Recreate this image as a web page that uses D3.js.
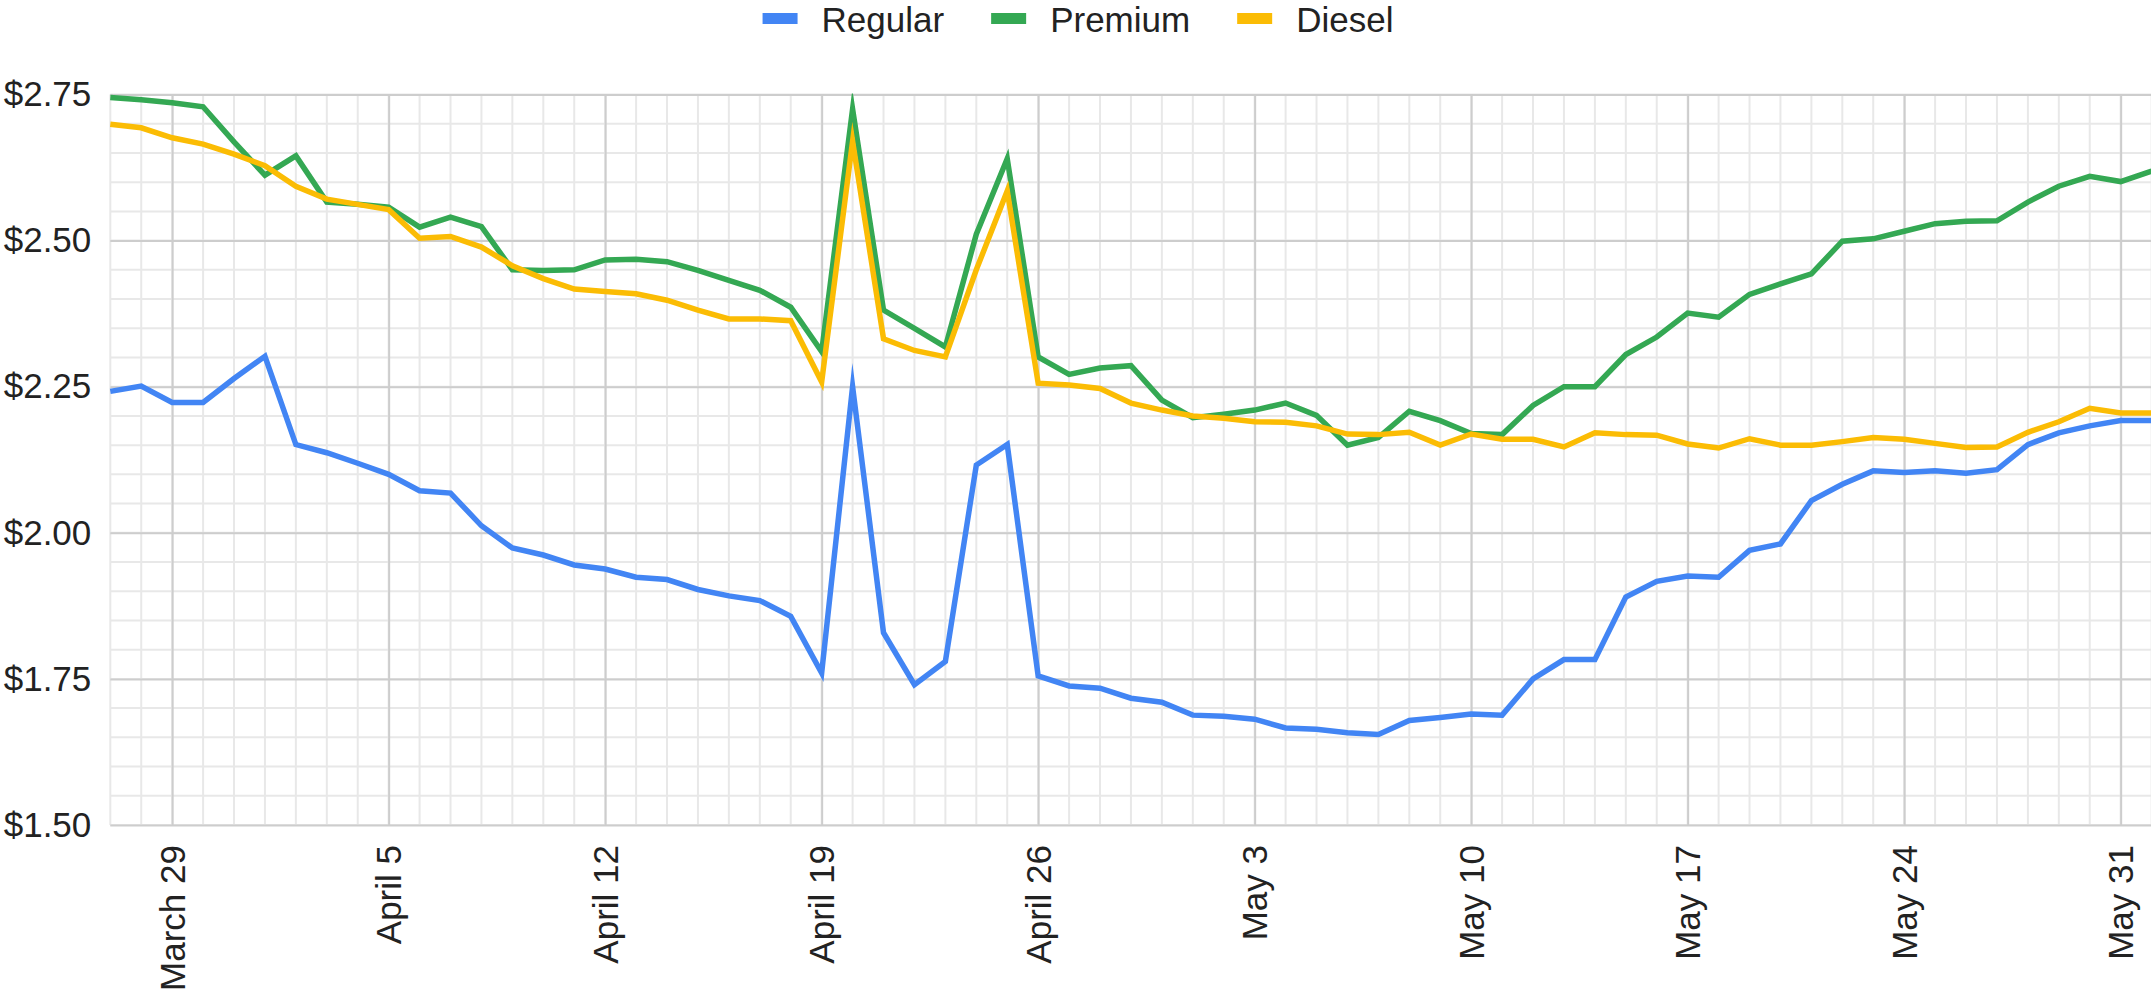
<!DOCTYPE html>
<html>
<head>
<meta charset="utf-8">
<script src="https://cdn.jsdelivr.net/npm/d3@7"></script>
<style>
  html, body { margin: 0; padding: 0; background: #fff; }
  svg { display: block; }
  text { font-family: "Liberation Sans", Arial, sans-serif; fill: #222; }
</style>
</head>
<body>
<svg id="chart" width="2151" height="995"></svg>
<script>
// Daily average fuel prices, late March to the start of June
const dates = [
  "2020-03-27","2020-03-28","2020-03-29","2020-03-30","2020-03-31",
  "2020-04-01","2020-04-02","2020-04-03","2020-04-04","2020-04-05",
  "2020-04-06","2020-04-07","2020-04-08","2020-04-09","2020-04-10",
  "2020-04-11","2020-04-12","2020-04-13","2020-04-14","2020-04-15",
  "2020-04-16","2020-04-17","2020-04-18","2020-04-19","2020-04-20",
  "2020-04-21","2020-04-22","2020-04-23","2020-04-24","2020-04-25",
  "2020-04-26","2020-04-27","2020-04-28","2020-04-29","2020-04-30",
  "2020-05-01","2020-05-02","2020-05-03","2020-05-04","2020-05-05",
  "2020-05-06","2020-05-07","2020-05-08","2020-05-09","2020-05-10",
  "2020-05-11","2020-05-12","2020-05-13","2020-05-14","2020-05-15",
  "2020-05-16","2020-05-17","2020-05-18","2020-05-19","2020-05-20",
  "2020-05-21","2020-05-22","2020-05-23","2020-05-24","2020-05-25",
  "2020-05-26","2020-05-27","2020-05-28","2020-05-29","2020-05-30",
  "2020-05-31","2020-06-01"
];

const regular = [
  2.242,2.251,2.223,2.223,2.264,
  2.302,2.151,2.137,2.119,2.100,
  2.072,2.068,2.012,1.974,1.962,
  1.945,1.938,1.924,1.920,1.903,
  1.892,1.884,1.857,1.760,2.250,
  1.829,1.740,1.780,2.116,2.151,
  1.755,1.738,1.734,1.717,1.710,
  1.688,1.686,1.681,1.666,1.664,
  1.658,1.655,1.679,1.684,1.690,
  1.688,1.750,1.783,1.783,1.890,
  1.917,1.926,1.924,1.970,1.981,
  2.055,2.083,2.106,2.103,2.106,
  2.102,2.108,2.151,2.171,2.183,
  2.192,2.192
];

const premium = [
  2.745,2.741,2.736,2.729,2.669,
  2.612,2.645,2.566,2.562,2.557,
  2.523,2.540,2.524,2.450,2.449,
  2.450,2.467,2.468,2.464,2.449,
  2.432,2.415,2.386,2.310,2.725,
  2.381,2.350,2.318,2.511,2.640,
  2.301,2.271,2.282,2.286,2.227,
  2.197,2.203,2.210,2.222,2.201,
  2.150,2.163,2.208,2.192,2.170,
  2.168,2.218,2.250,2.250,2.305,
  2.335,2.376,2.369,2.408,2.426,
  2.443,2.499,2.503,2.516,2.529,
  2.533,2.534,2.566,2.593,2.610,
  2.601,2.619
];

const diesel = [
  2.699,2.693,2.676,2.665,2.648,
  2.628,2.593,2.571,2.562,2.553,
  2.504,2.507,2.489,2.457,2.435,
  2.417,2.413,2.409,2.398,2.381,
  2.366,2.366,2.363,2.258,2.670,
  2.332,2.312,2.301,2.450,2.585,
  2.256,2.253,2.247,2.222,2.210,
  2.200,2.196,2.190,2.189,2.183,
  2.169,2.168,2.172,2.150,2.169,
  2.160,2.160,2.147,2.171,2.168,
  2.167,2.152,2.145,2.161,2.150,
  2.150,2.156,2.163,2.160,2.153,
  2.146,2.147,2.172,2.190,2.213,
  2.205,2.205
];

const seriesNames = ["Regular", "Premium", "Diesel"];
const seriesColors = ["#4285F4", "#34A853", "#FBBC04"];

const xTickDates = [
  "2020-03-29","2020-04-05","2020-04-12","2020-04-19","2020-04-26",
  "2020-05-03","2020-05-10","2020-05-17","2020-05-24","2020-05-31"
];
const xTickLabels = [
  "March 29","April 5","April 12","April 19","April 26",
  "May 3","May 10","May 17","May 24","May 31"
];
const yTickValues = [1.50, 1.75, 2.00, 2.25, 2.50, 2.75];
const yTickLabels = ["$1.50", "$1.75", "$2.00", "$2.25", "$2.50", "$2.75"];

const W = 2151, H = 995;
const plot = { left: 110.3, right: 2151.6, top: 94.5, bottom: 825 };
const parse = d3.timeParse("%Y-%m-%d");
const days = dates.map(parse);

const svg = d3.select("#chart");

const x = d3.scaleTime()
  .domain([days[0], days[days.length - 1]])
  .range([plot.left, plot.right]);

const y = d3.scaleLinear()
  .domain([yTickValues[0], yTickValues[yTickValues.length - 1]])
  .range([plot.bottom, plot.top]);

// ---- gridlines ----
const grid = svg.append("g").attr("class", "grid");
const minorColor = "#e8e8e8", majorColor = "#cdcdcd";

// minor horizontal lines every 5 cents
grid.selectAll("line.hminor")
  .data(y.ticks(25))
  .join("line")
  .attr("x1", plot.left).attr("x2", W)
  .attr("y1", d => y(d)).attr("y2", d => y(d))
  .attr("stroke", minorColor).attr("stroke-width", 2);

// minor vertical lines every day
grid.selectAll("line.vminor")
  .data(days)
  .join("line")
  .attr("x1", d => x(d)).attr("x2", d => x(d))
  .attr("y1", plot.top).attr("y2", plot.bottom)
  .attr("stroke", minorColor).attr("stroke-width", 2);

// major lines via the axes themselves
const yAxis = d3.axisLeft(y)
  .tickValues(yTickValues)
  .tickFormat((d, i) => yTickLabels[i])
  .tickSize(-(W - plot.left))
  .tickPadding(19);

const yAxisG = svg.append("g")
  .attr("transform", `translate(${plot.left},0)`)
  .call(yAxis);
yAxisG.select(".domain").remove();
yAxisG.selectAll(".tick line").attr("stroke", majorColor).attr("stroke-width", 2);
yAxisG.selectAll(".tick text")
  .attr("font-size", 35)
  .attr("fill", "#222")
  .style("font-family", "'Liberation Sans', Arial, sans-serif");

const xTicks = xTickDates.map(parse);
const xAxis = d3.axisBottom(x)
  .tickValues(xTicks)
  .tickFormat((d, i) => xTickLabels[i])
  .tickSize(-(plot.bottom - plot.top));

const xAxisG = svg.append("g")
  .attr("transform", `translate(0,${plot.bottom})`)
  .call(xAxis);
xAxisG.select(".domain").remove();
xAxisG.selectAll(".tick line").attr("stroke", majorColor).attr("stroke-width", 2);
xAxisG.selectAll(".tick text")
  .attr("font-size", 35)
  .attr("fill", "#222")
  .style("font-family", "'Liberation Sans', Arial, sans-serif")
  .attr("text-anchor", "end")
  .attr("dy", "0.35em")
  .attr("transform", "translate(0,20) rotate(-90)")
  .attr("x", 0)
  .attr("y", 0);

// ---- lines ----
svg.append("clipPath").attr("id", "plot-clip")
  .append("rect")
  .attr("x", 0).attr("y", plot.top - 1)
  .attr("width", W).attr("height", plot.bottom - plot.top + 10);

const line = d3.line()
  .x((d, i) => x(days[i]))
  .y(d => y(d));

const series = [regular, premium, diesel];
svg.append("g")
  .attr("clip-path", "url(#plot-clip)")
  .selectAll("path")
  .data(series)
  .join("path")
  .attr("d", d => line(d))
  .attr("fill", "none")
  .attr("stroke", (d, i) => seriesColors[i])
  .attr("stroke-width", 5.5)
  .attr("stroke-linejoin", "miter")
  .attr("stroke-miterlimit", 12);

// ---- legend ----
const legend = svg.append("g").attr("class", "legend");
const swW = 35, swH = 11, swGap = 24, itemGap = 47;
const items = legend.selectAll("g")
  .data(seriesNames)
  .join("g");
items.append("rect")
  .attr("width", swW).attr("height", swH)
  .attr("y", 13)
  .attr("fill", (d, i) => seriesColors[i]);
items.append("text")
  .attr("x", swW + swGap)
  .attr("y", 32)
  .attr("font-size", 35)
  .text(d => d);

let offset = 0;
const widths = [];
items.each(function () {
  const tw = d3.select(this).select("text").node().getComputedTextLength();
  widths.push(swW + swGap + tw);
});
const total = d3.sum(widths) + itemGap * (widths.length - 1);
const start = 1078 - total / 2;
items.attr("transform", (d, i) => {
  const t = `translate(${start + offset},0)`;
  offset += widths[i] + itemGap;
  return t;
});
</script>
</body>
</html>
